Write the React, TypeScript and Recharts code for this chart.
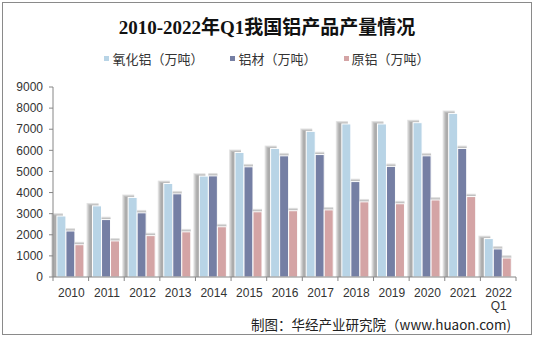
import React from "react";
import { BarChart, Bar, XAxis, YAxis } from "recharts";

const years = ["2010", "2011", "2012", "2013", "2014", "2015", "2016", "2017", "2018", "2019", "2020", "2021", "2022 Q1"];
const alumina = [2890, 3370, 3770, 4430, 4780, 5900, 6090, 6900, 7250, 7250, 7310, 7750, 1820];
const aluminumProducts = [2180, 2720, 3040, 3940, 4790, 5220, 5740, 5800, 4520, 5240, 5740, 6090, 1330];
const primaryAluminum = [1530, 1710, 1960, 2140, 2380, 3090, 3140, 3180, 3560, 3470, 3650, 3810, 900];
const yTicks = [0, 1000, 2000, 3000, 4000, 5000, 6000, 7000, 8000, 9000];

const SERIES = [
  { key: "alumina", name: "氧化铝（万吨）", color: "#B8D4E6", shadowDx: 3, spread: 1 },
  { key: "products", name: "铝材（万吨）", color: "#757FA4", shadowDx: 0, spread: 0 },
  { key: "primary", name: "原铝（万吨）", color: "#D4A4A5", shadowDx: 0, spread: 0 },
];

const data = years.map((y, i) => ({
  year: y,
  alumina: alumina[i],
  products: aluminumProducts[i],
  primary: primaryAluminum[i],
}));

const W = 534;
const H = 338;
const MARGIN = { top: 87, right: 18, bottom: 0, left: 0 };
const Y_W = 53;
const X_H = 61;
const BAND = (W - MARGIN.left - MARGIN.right - Y_W) / years.length;
const FONT = "'Liberation Sans', Arial, 'Noto Sans CJK SC', sans-serif";

const XTick = (props: any) => {
  const { x, y, payload, index } = props;
  const lines = String(payload.value).split(" ");
  const left = x - BAND / 2;
  const axisY = y - 8;
  return (
    <g>
      <line x1={left} y1={axisY} x2={left} y2={axisY + 4} stroke="#868686" />
      {index === years.length - 1 && (
        <line x1={x + BAND / 2} y1={axisY} x2={x + BAND / 2} y2={axisY + 4} stroke="#868686" />
      )}
      {lines.map((l, i) => (
        <text key={i} x={x + 0.5} y={y + 12 + i * 13} textAnchor="middle" fill="#333" fontSize={12} fontFamily={FONT}>
          {l}
        </text>
      ))}
    </g>
  );
};

// bar with a soft grey shadow (stacked translucent rects) to the upper left
const makeShape = (color: string, dx: number, spread: number) => (props: any) => {
  const x = Number(props.x);
  const y = Number(props.y);
  const width = Number(props.width);
  const height = Number(props.height);
  if (!height || height <= 0) return <g />;
  const layers = [0, 1, 2, 3];
  return (
    <g>
      {layers.map((i) => (
        <rect
          key={i}
          x={x - dx - i * spread}
          y={y - 0.5 - i * 0.8}
          width={width + i * spread}
          height={height + 0.5 + i * 0.8}
          fill="#505050"
          fillOpacity={0.15}
        />
      ))}
      <rect x={x} y={y} width={width} height={height} fill={color} stroke="#fff" strokeWidth={1} />
    </g>
  );
};

export default function App() {
  return (
    <div style={{ position: "fixed", left: 0, top: 0, width: W, height: H, background: "#fff", overflow: "hidden" }}>
      <div style={{ position: "absolute", left: 2, top: 2, width: 528, height: 331, border: "1px solid #8a8a8a" }} />
      <div
        style={{
          position: "absolute", left: 0, top: 12, width: W, textAlign: "center",
          fontFamily: "'Liberation Serif', 'Noto Sans CJK SC', serif", fontWeight: "bold", fontSize: 19, color: "#111",
        }}
      >
        2010-2022年Q1我国铝产品产量情况
      </div>
      <div
        style={{
          position: "absolute", left: 0, top: 49, width: W, display: "flex", justifyContent: "center",
          fontFamily: "'Noto Sans CJK SC', sans-serif", fontSize: 13, color: "#333", gap: 27,
        }}
      >
        {SERIES.map((s) => (
          <div key={s.key} style={{ display: "flex", alignItems: "center" }}>
            <span style={{ display: "inline-block", width: 5, height: 5, background: s.color, marginRight: 3 }} />
            <span>{s.name}</span>
          </div>
        ))}
      </div>

      <div style={{ position: "absolute", left: 0, top: 0 }}>
        <BarChart width={W} height={H} data={data} margin={MARGIN} barCategoryGap="11%" barGap={0}>
          <XAxis
            dataKey="year"
            height={X_H}
            interval={0}
            axisLine={{ stroke: "#868686" }}
            tickLine={false}
            tick={<XTick />}
          />
          <YAxis
            width={Y_W}
            domain={[0, 9000]}
            ticks={yTicks}
            interval={0}
            axisLine={{ stroke: "#868686" }}
            tickLine={{ stroke: "#868686" }}
            tickSize={4}
            tickMargin={6}
            tick={{ fill: "#333", fontSize: 12, fontFamily: FONT }}
          />
          {SERIES.map((s) => (
            <Bar
              key={s.key}
              dataKey={s.key}
              name={s.name}
              fill={s.color}
              shape={makeShape(s.color, s.shadowDx, s.spread)}
              isAnimationActive={false}
            />
          ))}
        </BarChart>
      </div>

      <div
        style={{
          position: "absolute", right: 23, top: 314, fontFamily: "'Noto Sans CJK SC', sans-serif",
          fontSize: 13.5, color: "#222", whiteSpace: "nowrap",
        }}
      >
        制图：华经产业研究院（www.huaon.com)
      </div>
    </div>
  );
}
